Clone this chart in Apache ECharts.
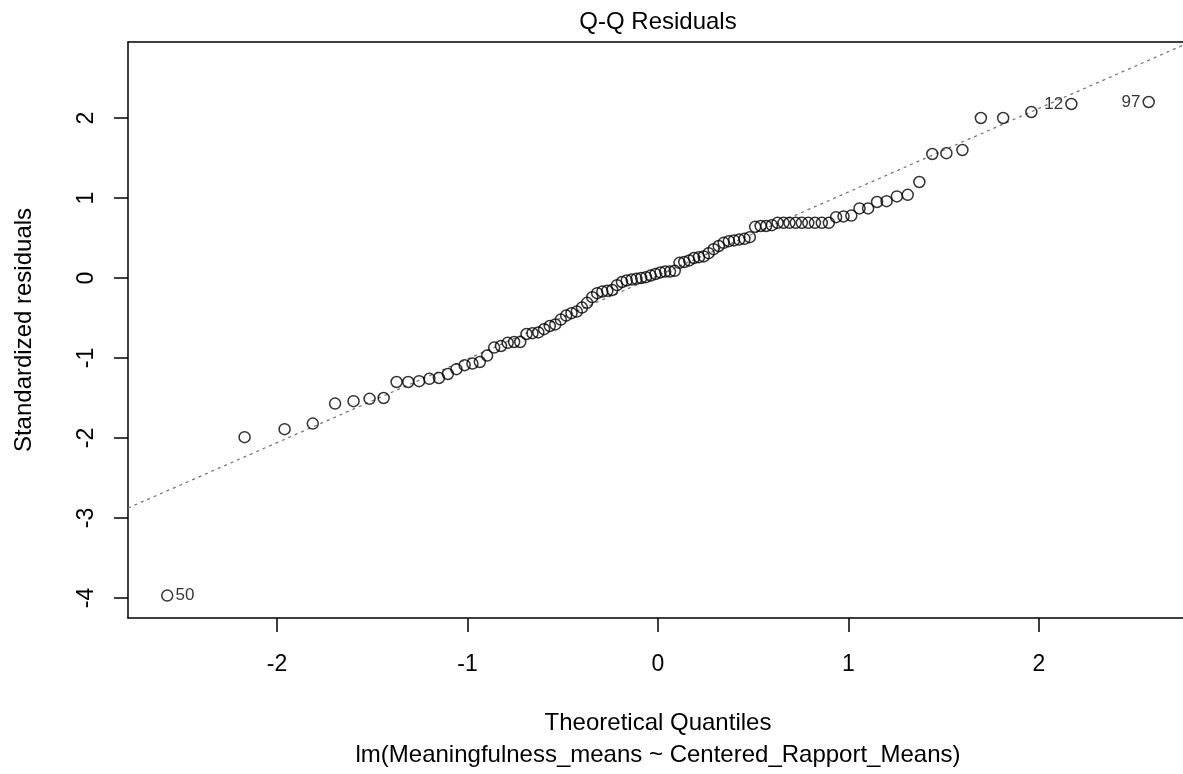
<!DOCTYPE html>
<html>
<head>
<meta charset="utf-8">
<script src="https://cdn.jsdelivr.net/npm/echarts@6/dist/echarts.min.js"></script>
<style>html,body{margin:0;padding:0;background:#fff;}#c{width:1183px;height:774px;}</style>
</head>
<body>
<div id="c"></div>
<script>
// Theoretical quantiles (x)
const theoretical = [
 -2.576,-2.170,-1.960,-1.812,-1.695,-1.598,-1.514,-1.440,-1.372,-1.311,
 -1.254,-1.200,-1.150,-1.103,-1.058,-1.015,-0.974,-0.935,-0.897,-0.860,
 -0.824,-0.789,-0.755,-0.723,-0.690,-0.659,-0.628,-0.598,-0.568,-0.539,
 -0.510,-0.482,-0.454,-0.426,-0.399,-0.372,-0.345,-0.319,-0.292,-0.266,
 -0.240,-0.215,-0.189,-0.164,-0.138,-0.113,-0.088,-0.063,-0.038,-0.013,
  0.013, 0.038, 0.063, 0.088, 0.113, 0.138, 0.164, 0.189, 0.215, 0.240,
  0.266, 0.292, 0.319, 0.345, 0.372, 0.399, 0.426, 0.454, 0.482, 0.510,
  0.539, 0.568, 0.598, 0.628, 0.659, 0.690, 0.723, 0.755, 0.789, 0.824,
  0.860, 0.897, 0.935, 0.974, 1.015, 1.058, 1.103, 1.150, 1.200, 1.254,
  1.311, 1.372, 1.440, 1.514, 1.598, 1.695, 1.812, 1.960, 2.170, 2.576
];
// Standardized residuals (y), sorted
const residuals = [
 -3.97,-1.99,-1.89,-1.82,-1.57,-1.54,-1.51,-1.50,-1.30,-1.30,
 -1.29,-1.26,-1.25,-1.20,-1.14,-1.09,-1.07,-1.05,-0.97,-0.87,
 -0.85,-0.81,-0.80,-0.80,-0.70,-0.69,-0.68,-0.64,-0.60,-0.58,
 -0.52,-0.47,-0.44,-0.42,-0.37,-0.31,-0.24,-0.19,-0.17,-0.16,
 -0.15,-0.09,-0.05,-0.03,-0.02,-0.01, 0.00, 0.01, 0.03, 0.05,
  0.07, 0.08, 0.08, 0.09, 0.19, 0.20, 0.22, 0.25, 0.26, 0.27,
  0.31, 0.36, 0.40, 0.44, 0.46, 0.47, 0.48, 0.49, 0.51, 0.64,
  0.65, 0.65, 0.66, 0.69, 0.69, 0.69, 0.69, 0.69, 0.69, 0.69,
  0.69, 0.69, 0.76, 0.77, 0.78, 0.87, 0.87, 0.95, 0.96, 1.02,
  1.04, 1.20, 1.55, 1.56, 1.60, 2.00, 2.00, 2.075, 2.175, 2.20
];
// Labelled observations (rank in sorted order -> observation id)
const labelRanks = [1, 99, 100];
const labelNames = ['50', '12', '97'];
const labelSides = ['right', 'left', 'left'];
// Reference line endpoints
const refLineX = [-2.782, 2.756];
const refLineY = [-2.875, 2.910];
// Axis ticks
const xTicks = [-2, -1, 0, 1, 2];
const yTicks = [-4, -3, -2, -1, 0, 1, 2];

const FONT = '"Liberation Sans", Arial, sans-serif';

const points = theoretical.map((x, i) => {
  const item = { value: [x, residuals[i]] };
  const k = labelRanks.indexOf(i + 1);
  if (k >= 0) {
    item.label = { show: true, formatter: labelNames[k], position: labelSides[k],
      distance: 2, fontSize: 17, color: '#000', fontFamily: FONT };
  }
  return item;
});

const lineStyleAxis = { color: '#000', width: 1.5 };

const chart = echarts.init(document.getElementById('c'), null, { renderer: 'canvas' });
chart.setOption({
  animation: false,
  backgroundColor: '#fff',
  grid: { left: 128, right: 0, top: 42, bottom: 156 },
  xAxis: [{
    type: 'value', min: -2.782, max: 2.756, position: 'bottom',
    axisLine: { show: true, onZero: false, lineStyle: lineStyleAxis },
    splitLine: { show: false },
    axisTick: { show: true, length: 14, lineStyle: lineStyleAxis, customValues: xTicks },
    axisLabel: { customValues: xTicks, fontSize: 23, color: '#000', fontFamily: FONT, margin: 35 }
  }, {
    type: 'value', min: -2.782, max: 2.756, position: 'top',
    axisLine: { show: true, onZero: false, lineStyle: lineStyleAxis },
    splitLine: { show: false }, axisTick: { show: false }, axisLabel: { show: false }
  }],
  yAxis: {
    type: 'value', min: -4.25, max: 2.95,
    name: 'Standardized residuals', nameLocation: 'middle', nameGap: 92,
    nameTextStyle: { fontSize: 24, color: '#000', fontFamily: FONT },
    axisLine: { show: true, onZero: false, lineStyle: lineStyleAxis },
    splitLine: { show: false },
    axisTick: { show: true, length: 14, lineStyle: lineStyleAxis, customValues: yTicks },
    axisLabel: { customValues: yTicks, fontSize: 23, color: '#000', fontFamily: FONT, rotate: 90, margin: 30 }
  },
  graphic: [
    { type: 'text', x: 658, y: 22, style: { text: 'Q-Q Residuals', fontSize: 24, fill: '#000',
      fontFamily: FONT, align: 'center', verticalAlign: 'middle' } },
    { type: 'text', x: 658, y: 723, style: { text: 'Theoretical Quantiles', fontSize: 24, fill: '#000',
      fontFamily: FONT, align: 'center', verticalAlign: 'middle' } },
    { type: 'text', x: 658, y: 755, style: { text: 'lm(Meaningfulness_means ~ Centered_Rapport_Means)', fontSize: 24, fill: '#000',
      fontFamily: FONT, align: 'center', verticalAlign: 'middle' } }
  ],
  series: [
    {
      type: 'line',
      data: refLineX.map((x, i) => [x, refLineY[i]]),
      symbol: 'none',
      lineStyle: { color: '#777', width: 1.3, type: [3, 4] },
      silent: true,
      z: 1
    },
    {
      type: 'scatter',
      data: points,
      symbol: 'circle',
      symbolSize: 11,
      itemStyle: { color: 'transparent', borderColor: '#000', borderWidth: 1.5 },
      z: 2
    }
  ]
});
</script>
</body>
</html>
